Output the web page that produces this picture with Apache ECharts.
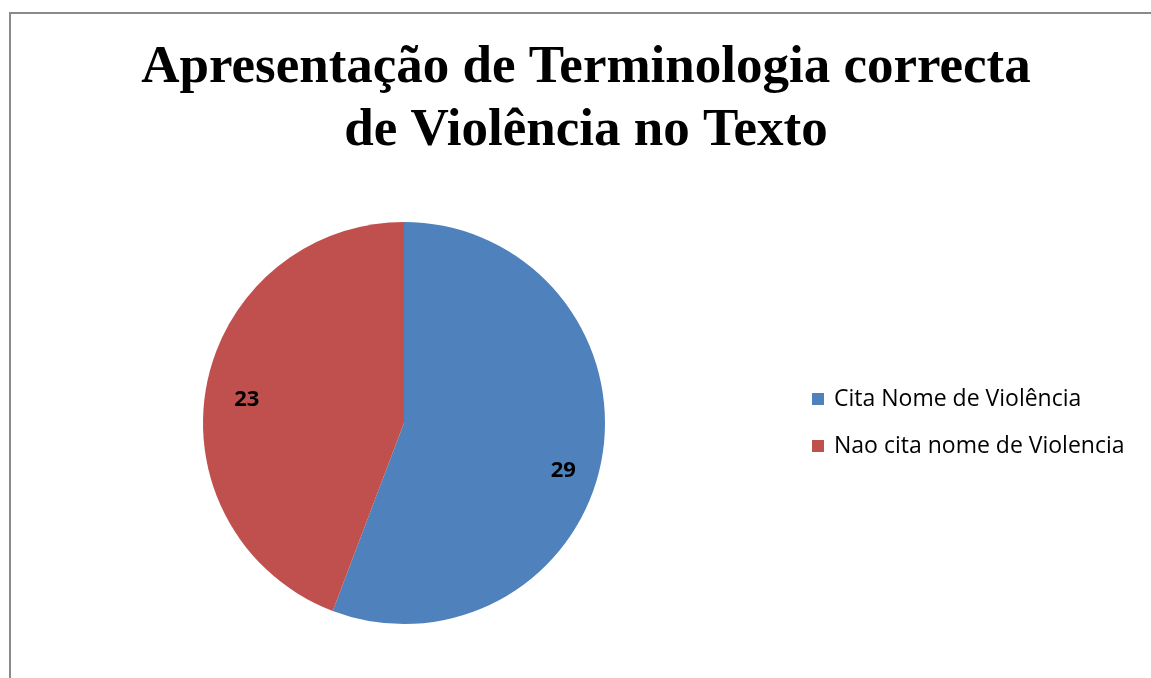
<!DOCTYPE html>
<html><head><meta charset="utf-8">
<script src="https://cdn.jsdelivr.net/npm/echarts@6/dist/echarts.min.js"></script>
<style>html,body{margin:0;padding:0;background:#fff}#c{width:1151px;height:678px}</style>
</head><body><div id="c"></div>
<script>
const titleLines = ["Apresentação de Terminologia correcta", "de Violência no Texto"];
const categories = ["Cita Nome de Violência", "Nao cita nome de Violencia"];
const values = [29, 23];
const colors = ["#4F81BD", "#C0504D"];

const labelOffsets = [[-6, 17], [8, 7]];
const data = categories.map((c, i) => ({ name: c, value: values[i], itemStyle: { color: colors[i] } }));
const chart = echarts.init(document.getElementById('c'));
chart.setOption({
  animation: false,
  graphic: [
    { type: 'polyline', shape: { points: [[10, 700], [10, 13], [1170, 13]] }, style: { stroke: '#8a8a8a', lineWidth: 2, fill: null } },
    { type: 'text', x: 586, y: 37, style: { text: titleLines.join('\n'), textAlign: 'center', textVerticalAlign: 'top', font: 'bold 53px "Liberation Serif"', lineHeight: 63, fill: '#000' } }
  ],
  legend: {
    orient: 'vertical', left: 807, top: 382, itemWidth: 12, itemHeight: 12, itemGap: 23, icon: 'rect',
    textStyle: { fontFamily: 'Open Sans', fontSize: 23, lineHeight: 24, color: '#000', padding: [0, 0, 0, 5] },
    data: categories
  },
  series: [
    { type: 'pie', center: [404, 423], radius: 201, startAngle: 90, clockwise: true, silent: true,
      label: { show: false }, labelLine: { show: false }, data: data },
    { type: 'pie', center: [404, 423], radius: [130, 200], startAngle: 90, clockwise: true, silent: true,
      legendHoverLink: false,
      label: { show: true, position: 'inside', formatter: '{c}', fontFamily: 'Open Sans', fontWeight: 'bold', fontSize: 22, color: '#000' },
      labelLine: { show: false },
      itemStyle: { color: 'rgba(0,0,0,0)' },
      data: categories.map((c, i) => ({ name: c + ' ', value: values[i], label: { offset: labelOffsets[i] } }))
    }
  ]
});
</script></body></html>
